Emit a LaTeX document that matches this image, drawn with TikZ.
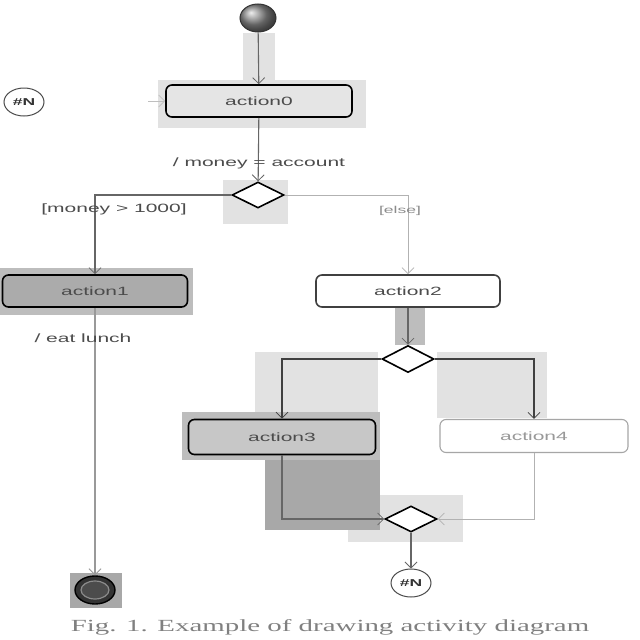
\documentclass[tikz,border=0pt]{standalone}
\usepackage{fontspec}
\setmainfont{Liberation Serif}
\setsansfont{Liberation Sans}
\usepackage{graphicx}
\usetikzlibrary{arrows.meta,shapes.geometric,shadows}
\newcommand{\widetxt}[1]{\scalebox{1.75}[1]{#1}}
\definecolor{hlA}{HTML}{E2E2E2}
\definecolor{hlB}{HTML}{BDBDBD}
\definecolor{hlC}{HTML}{A8A8A8}
\begin{document}
\begin{tikzpicture}[x=1pt,y=-1pt,
  act/.style={draw, rounded corners=6pt, line width=1.6pt, inner sep=0pt,
    minimum height=32pt, text=black!70,
    font=\sffamily\fontsize{12}{14}\selectfont},
  dec/.style={draw=black, diamond, line width=1.6pt, inner sep=0pt, fill=white,
    minimum width=52pt, minimum height=26pt},
  flow/.style={draw=black!60, line width=1.1pt},
  lite/.style={draw=black!30, line width=0.9pt},
  tip/.style={-{Straight Barb[length=6pt,width=12pt,line width=0.8pt]}},
  lbl/.style={inner sep=0pt, text=black!70, font=\sffamily\fontsize{12}{14}\selectfont},
  conn/.style={ellipse, draw=black!70, line width=1pt, fill=white, inner sep=0pt,
    minimum width=40pt, minimum height=28pt, text=black!80,
    font=\sffamily\bfseries\fontsize{10}{11}\selectfont}]
\path[use as bounding box, fill=white] (0,0) rectangle (640,640);

% selection highlights
\fill[hlA] (243,33) rectangle (275,82);
\fill[hlA] (158,80) rectangle (366,128);
\fill[hlA] (223,180) rectangle (288,224);
\fill[hlB] (0,268) rectangle (193,315);
\fill[hlB] (395,307) rectangle (425,345);
\fill[hlA] (255,352) rectangle (378,414);
\fill[hlA] (437,352) rectangle (547,418);
\fill[hlB] (182,412) rectangle (380,460);
\fill[hlC] (265,460) rectangle (380,530);
\fill[hlA] (348,495) rectangle (463,542);
\fill[hlC] (348,495) rectangle (380,530);
\fill[hlC] (70,573) rectangle (122,608);

% nodes
\node[ellipse, draw=black!80, line width=1pt, shading=ball, ball color=black!45,
  minimum width=36pt, minimum height=28pt, inner sep=0pt] (init) at (258,18) {};
\node[act, fill=black!10, minimum width=186pt] (a0) at (259,101) {\widetxt{action0}};
\node[conn] (ntop) at (24,102) {\widetxt{\#N}};
\node[dec] (d1) at (258,195) {};
\node[act, fill=black!33, minimum width=185pt] (a1) at (95,291) {\widetxt{action1}};
\node[act, fill=white, draw=black!75, minimum width=184pt] (a2) at (408,291) {\widetxt{action2}};
\node[dec, minimum width=52pt, minimum height=27pt] (d2) at (408,359) {};
\node[act, fill=black!22, minimum width=187pt, minimum height=35pt] (a3) at (282,437) {\widetxt{action3}};
\node[act, fill=white, draw=black!35, line width=1.1pt, text=black!40, minimum width=188pt, minimum height=33pt] (a4) at (534,436) {\widetxt{action4}};
\node[dec] (d3) at (411,519) {};
\node[conn] (nbot) at (411,583) {\widetxt{\#N}};
\node[ellipse, draw=black, line width=1.4pt, fill=black!80, minimum width=40pt,
  minimum height=28pt, inner sep=0pt] (fin) at (95,590) {};
\node[ellipse, draw=black!45, line width=1.2pt, fill=black!70, minimum width=28pt,
  minimum height=18pt, inner sep=0pt] (finin) at (95,590) {};

% connectors
\coordinate (inA0) at (148,101);
\draw[lite, tip, draw=black!25] (inA0) -- (a0.west);
\draw[flow, tip] (init) -- (a0);
\draw[flow, tip] (a0) -- (d1);
\draw[flow, tip] (d1.west) -| (a1.north);
\draw[lite, tip] (d1.east) -| (a2.north);
\draw[flow, draw=black!40, tip] (a1) -- (fin);
\draw[flow, tip] (a2) -- (d2);
\draw[flow, line width=1.5pt, draw=black!75, tip] (d2.west) -| (a3.north);
\draw[flow, line width=1.5pt, draw=black!75, tip] (d2.east) -| (a4.north);
\draw[flow, tip] (a3.south) |- (d3.west);
\draw[lite, tip] (a4.south) |- (d3.east);
\draw[flow, tip] (d3) -- (nbot);

% labels
\node[lbl] (lmoney) at (259,163) {\widetxt{/ money = account}};
\node[lbl] (lguard) at (114,209) {\widetxt{[money > 1000]}};
\node[lbl, text=black!45, font=\sffamily\fontsize{10}{12}\selectfont] (lelse) at (400,211) {\widetxt{[else]}};
\node[lbl] (leat) at (83,338) {\widetxt{/ eat lunch}};
\node[inner sep=0pt, text=black!50, font=\fontsize{17}{19}\selectfont] (cap) at (330,627) {\scalebox{1.7}[1]{Fig. 1. Example of drawing activity diagram}};
\end{tikzpicture}
\end{document}
